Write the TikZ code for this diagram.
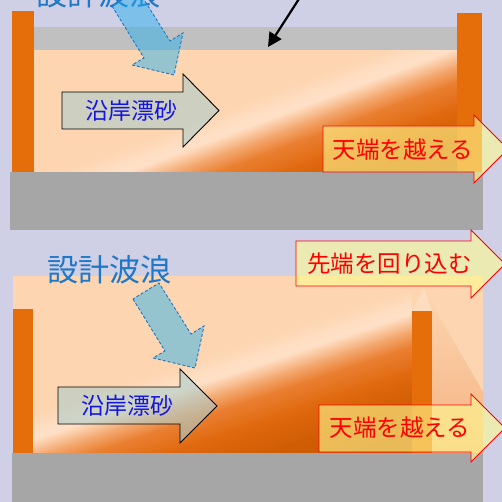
\documentclass[tikz,border=0pt]{standalone}
\usepackage{fontspec}
\newfontfamily\jp{Noto Sans CJK JP}
\usetikzlibrary{arrows.meta}
\definecolor{bg}{RGB}{207,207,230}
\definecolor{peach}{RGB}{253,213,177}
\definecolor{hilite}{RGB}{255,224,198}
\definecolor{orA}{RGB}{244,170,115}
\definecolor{orB}{RGB}{234,128,50}
\definecolor{orC}{RGB}{224,104,14}
\definecolor{orD}{RGB}{208,93,4}
\definecolor{orE}{RGB}{198,89,6}
\definecolor{wallc}{RGB}{230,110,10}
\definecolor{lgray}{RGB}{192,192,192}
\definecolor{dgray}{RGB}{166,166,166}
\definecolor{wblue}{RGB}{34,176,240}
\definecolor{wborder}{RGB}{30,120,200}
\definecolor{wtext}{RGB}{30,120,200}
\definecolor{sandfill}{RGB}{173,205,203}
\definecolor{sandtext}{RGB}{20,20,230}
\definecolor{yfill}{RGB}{255,252,144}
\definecolor{conec}{RGB}{244,178,128}
% #1,#2: a point on the mid-orange line; #3: rotation of the gradient axis
\newcommand\coastgrad[3]{%
 \begin{scope}[transform canvas={rotate around={#3:(#1,#2)}}]
  \fill[peach] ({#1-900},{#2-900}) rectangle ({#1-54.5},{#2+900});
  \shade[left color=peach,right color=hilite] ({#1-55},{#2-900}) rectangle ({#1-35.5},{#2+900});
  \fill[hilite] ({#1-36},{#2-900}) rectangle ({#1-30.5},{#2+900});
  \shade[left color=hilite,right color=orA] ({#1-31},{#2-900}) rectangle ({#1-14.5},{#2+900});
  \shade[left color=orA,right color=orB] ({#1-15},{#2-900}) rectangle ({#1+0.5},{#2+900});
  \shade[left color=orB,right color=orC] ({#1},{#2-900}) rectangle ({#1+25.5},{#2+900});
  \shade[left color=orC,right color=orD] ({#1+25},{#2-900}) rectangle ({#1+55.5},{#2+900});
  \shade[left color=orD,right color=orE] ({#1+55},{#2-900}) rectangle ({#1+100.5},{#2+900});
  \fill[orE] ({#1+100},{#2-900}) rectangle ({#1+900},{#2+900});
 \end{scope}}
\tikzset{
  wallbox/.style={fill=wallc, draw=none},
  wavearrow/.style={draw=wborder, dash pattern=on 3pt off 2pt, line width=0.9pt, fill=wblue, fill opacity=0.47},
  sandarrow/.style={draw=black, line width=0.9pt, fill=sandfill, fill opacity=0.6},
  redarrow/.style={draw=red, line width=0.9pt, fill=yfill, fill opacity=0.6},
  wavelbl/.style={font=\jp\fontsize{31}{34}\selectfont, text=wtext, inner sep=0},
  sandlbl/.style={font=\jp\fontsize{23}{26}\selectfont, text=sandtext, inner sep=0},
  redlbl/.style={font=\jp\fontsize{23.5}{26}\selectfont, text=red, inner sep=0}
}
\begin{document}
\begin{tikzpicture}[x=1pt,y=-1pt]
\useasboundingbox (0,0) rectangle (502,502);
\clip (0,0) rectangle (502,502);
\fill[bg] (0,0) rectangle (502,502);
% ---------- top panel ----------
\fill[lgray] (34,27) rectangle (457,51);
\begin{scope}
  \clip (34,51) rectangle (457,172);
  \coastgrad{300}{140}{-69.4}
\end{scope}
\fill[dgray] (10,172) rectangle (483,230);
\fill[wallbox] (12,11) rectangle (34,172);
\fill[wallbox] (457,13) rectangle (482,172);
\node[wavelbl] (waveT) at (98,-6) {設計波浪};
\path[wavearrow] (112,6) -- (144,58) -- (132,65) -- (174,75) -- (183,33) -- (170,41) -- (138,-10) -- cycle;
\path[sandarrow] (62,92) -- (183,92) -- (183,74) -- (219,110.5) -- (183,147) -- (183,129) -- (62,129) -- cycle;
\node[sandlbl] (sandT) at (131,110.5) {沿岸漂砂};
\path[redarrow] (323,126) -- (474,126) -- (474,115) -- (508,149) -- (474,183) -- (474,172) -- (323,172) -- cycle;
\node[redlbl] (overT) at (403,150) {天端を越える};
\coordinate (blkS) at (301.5,-5);
\coordinate (blkE) at (268,47);
\draw[line width=2.2pt, -{Triangle[length=14pt,width=14pt]}] (blkS) -- (blkE);
% ---------- bottom panel ----------
\fill[peach] (13,276) rectangle (483,453);
\begin{scope}
  \clip (33,276) rectangle (412,453);
  \coastgrad{300}{383}{-71.6}
\end{scope}
\shade[top color=peach, bottom color=conec] (424,290) -- (483,392) -- (483,453) -- (432,453) -- (432,311) -- cycle;
\fill[hilite, opacity=0.7] (412,311) -- (432,311) -- (424,288) -- cycle;
\fill[wallbox] (13,309) rectangle (33,453);
\fill[wallbox] (412,311) rectangle (432,453);
\fill[dgray] (12,453) rectangle (483,502);
\node[wavelbl] (waveB) at (109.5,270) {設計波浪};
\path[wavearrow] (133,299) -- (165,351) -- (153,358) -- (195,368) -- (204,326) -- (191,334) -- (159,283) -- cycle;
\path[sandarrow] (58,387) -- (180,387) -- (180,369) -- (217,406) -- (180,443) -- (180,424) -- (58,424) -- cycle;
\node[sandlbl] (sandB) at (127.5,406) {沿岸漂砂};
\path[redarrow] (296,241) -- (471,241) -- (471,230) -- (505,264) -- (471,298) -- (471,286) -- (296,286) -- cycle;
\node[redlbl] (roundB) at (389.5,264) {先端を回り込む};
\path[redarrow] (319,405) -- (471,405) -- (471,394) -- (505,428) -- (471,462) -- (471,452) -- (319,452) -- cycle;
\node[redlbl] (overB) at (400,428) {天端を越える};
\end{tikzpicture}
\end{document}
